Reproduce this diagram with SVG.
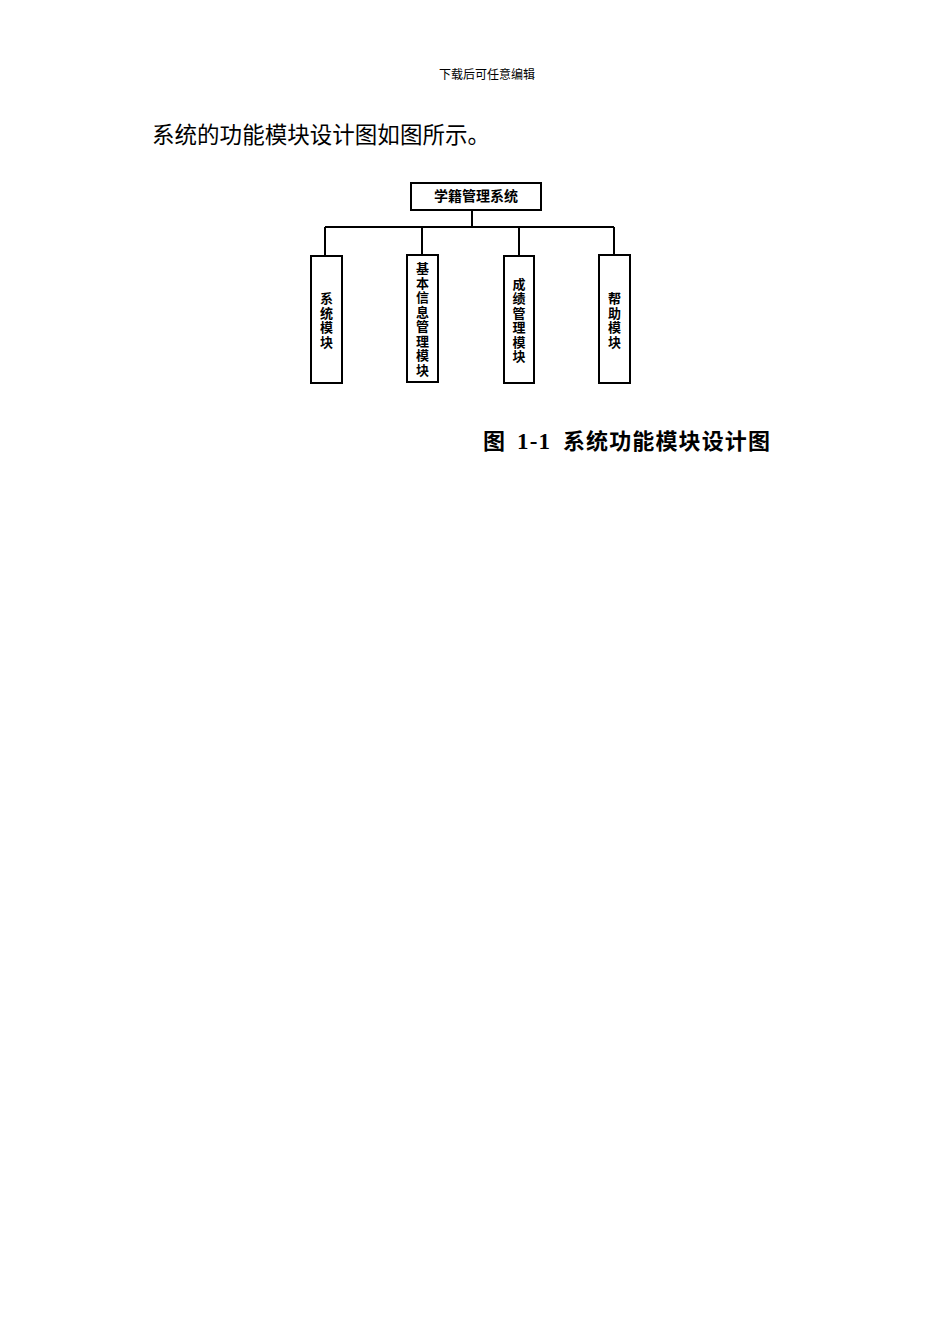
<svg xmlns="http://www.w3.org/2000/svg" width="950" height="1344" viewBox="0 0 950 1344">
<style>
.box{fill:#fff;stroke:#000;stroke-width:2}
.ln{fill:none;stroke:#000;stroke-width:2}
.cjk{font-family:"Noto Sans CJK SC","Noto Sans",sans-serif;fill:#000}
.lbl{font-size:13px;font-weight:bold;text-anchor:middle;writing-mode:vertical-rl;text-orientation:upright;letter-spacing:1.5px}
</style>
<rect width="950" height="1344" fill="#fff"/>
<text class="cjk" x="487" y="79" font-size="12" text-anchor="middle">下载后可任意编辑</text>
<text class="cjk" x="152" y="143" font-size="22.5" textLength="338">系统的功能模块设计图如图所示。</text>
<g id="connectors">
<path class="ln" d="M472 210V227M325 227H614M325 227V256M422 227V255M519 227V256M614 227V255"/>
</g>
<g id="root">
<rect class="box" x="411" y="183" width="130" height="27"/>
<text class="cjk" x="476" y="201" font-size="14" font-weight="bold" text-anchor="middle">学籍管理系统</text>
</g>
<g id="n1">
<rect class="box" x="311" y="256" width="31" height="127"/>
<text class="cjk lbl" x="326.5" y="321">系统模块</text>
</g>
<g id="n2">
<rect class="box" x="407" y="255" width="31" height="127"/>
<text class="cjk lbl" x="422.5" y="320">基本信息管理模块</text>
</g>
<g id="n3">
<rect class="box" x="504" y="256" width="30" height="127"/>
<text class="cjk lbl" x="519" y="321">成绩管理模块</text>
</g>
<g id="n4">
<rect class="box" x="599" y="255" width="31" height="128"/>
<text class="cjk lbl" x="614.5" y="321">帮助模块</text>
</g>
<g id="caption" class="cjk" font-size="22" font-weight="bold">
<text x="483" y="449">图</text>
<text x="517" y="449" font-family="'Liberation Serif',serif" textLength="33" font-size="23">1-1</text>
<text x="563" y="449" textLength="207">系统功能模块设计图</text>
</g>
</svg>
